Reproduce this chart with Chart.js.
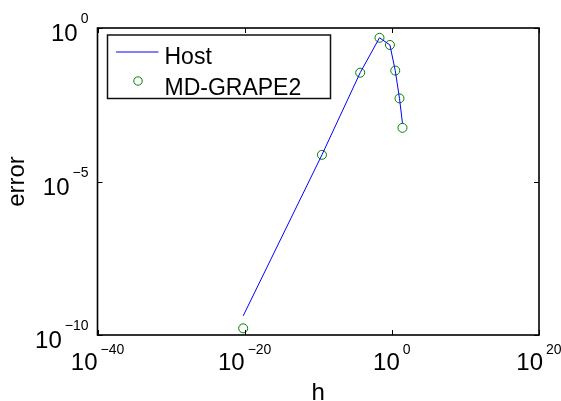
<!DOCTYPE html>
<html lang="en">
  <head>
    <meta charset="UTF-8" />
    <title>error vs h</title>
    <script src="https://cdn.jsdelivr.net/npm/chart.js"></script>
    <style>
      body { margin: 0; background: #fff; }
    </style>
  </head>
  <body>
    <canvas id="errChart" width="561" height="401"></canvas>

    <script>
      // step sizes h and errors
      const hValues = [6.3e-21, 3.2e-10, 5e-5, 2.1e-2, 0.55, 2.9, 11, 28];
      const hostErr = [4.2e-10, 7.4e-5, 0.035, 0.48, 0.28, 0.041, 5.1e-3, 7.9e-4];
      const grapeErr = [1.65e-10, 7.4e-5, 0.035, 0.48, 0.28, 0.041, 5.1e-3, 5.6e-4];
      const xTickExp = [-40, -20, 0, 20];
      const yTickExp = [-10, -5, 0];
      const seriesNames = ["Host", "MD-GRAPE2"];

      const FONT = "'Liberation Sans', Arial, sans-serif";

      function expText(e) {
        return e < 0 ? "\u2212" + Math.abs(e) : String(e);
      }

      // matlab-like frame, inward ticks, 10^n labels, axis titles, legend
      const matlabAxes = {
        id: "matlabAxes",
        afterDraw(chart) {
          const ctx = chart.ctx;
          const a = chart.chartArea;
          const xs = chart.scales.x;
          const ys = chart.scales.y;
          ctx.save();

          // frame
          ctx.strokeStyle = "#000";
          ctx.lineWidth = 1.6;
          ctx.strokeRect(a.left, a.top, a.right - a.left, a.bottom - a.top);

          // ticks
          ctx.lineWidth = 1;
          ctx.beginPath();
          xTickExp.forEach((e) => {
            const px = Math.round(xs.getPixelForValue(Math.pow(10, e))) + 0.5;
            ctx.moveTo(px, a.bottom); ctx.lineTo(px, a.bottom - 5);
            ctx.moveTo(px, a.top); ctx.lineTo(px, a.top + 5);
          });
          yTickExp.forEach((e) => {
            const py = Math.round(ys.getPixelForValue(Math.pow(10, e))) + 0.5;
            ctx.moveTo(a.left, py); ctx.lineTo(a.left + 5, py);
            ctx.moveTo(a.right, py); ctx.lineTo(a.right - 5, py);
          });
          ctx.stroke();

          // tick labels
          ctx.fillStyle = "#000";
          ctx.textBaseline = "alphabetic";
          ctx.textAlign = "left";
          const big = "24px " + FONT;
          const small = "14px " + FONT;
          const gap = 3;
          xTickExp.forEach((e) => {
            const px = xs.getPixelForValue(Math.pow(10, e));
            ctx.font = big;
            const w1 = ctx.measureText("10").width;
            ctx.font = small;
            const w2 = ctx.measureText(expText(e)).width;
            const x0 = px - (w1 + gap + w2) / 2;
            ctx.font = big;
            ctx.fillText("10", x0, a.bottom + 35);
            ctx.font = small;
            ctx.fillText(expText(e), x0 + w1 + gap, a.bottom + 19);
          });
          yTickExp.forEach((e) => {
            const py = ys.getPixelForValue(Math.pow(10, e));
            ctx.font = small;
            const w2 = ctx.measureText(expText(e)).width;
            ctx.font = big;
            const w1 = ctx.measureText("10").width;
            const x0 = a.left - 9 - w2 - gap - w1;
            ctx.fillText("10", x0, py + 13);
            ctx.font = small;
            ctx.fillText(expText(e), x0 + w1 + gap, py - 5);
          });

          // axis titles
          ctx.font = "24px " + FONT;
          ctx.textAlign = "center";
          ctx.fillText("h", (a.left + a.right) / 2, a.bottom + 65);
          ctx.save();
          ctx.translate(23.5, (a.top + a.bottom) / 2);
          ctx.rotate(-Math.PI / 2);
          ctx.fillText("error", 0, 0);
          ctx.restore();

          // legend
          const lx = a.left + 10;
          const ly = a.top + 7;
          ctx.lineWidth = 1.5;
          ctx.strokeStyle = "#111";
          ctx.strokeRect(lx, ly, 223, 63.5);
          const hostDs = chart.data.datasets[0];
          const grapeDs = chart.data.datasets[1];
          ctx.strokeStyle = hostDs.borderColor;
          ctx.lineWidth = 1;
          ctx.beginPath();
          ctx.moveTo(lx + 8.5, ly + 17);
          ctx.lineTo(lx + 51, ly + 17);
          ctx.stroke();
          ctx.strokeStyle = grapeDs.pointBorderColor;
          ctx.beginPath();
          ctx.arc(lx + 30.5, ly + 46, 4.2, 0, Math.PI * 2);
          ctx.stroke();
          ctx.textAlign = "left";
          ctx.font = "23px " + FONT;
          ctx.fillText(hostDs.label, lx + 57, ly + 28.5);
          ctx.fillText(grapeDs.label, lx + 57, ly + 59.5);

          ctx.restore();
        },
      };

      new Chart(document.getElementById("errChart"), {
        type: "scatter",
        data: {
          datasets: [
            {
              label: seriesNames[0],
              data: hValues.map((h, i) => ({ x: h, y: hostErr[i] })),
              showLine: true,
              borderColor: "#0000ff",
              borderWidth: 1,
              pointRadius: 0,
              tension: 0,
            },
            {
              label: seriesNames[1],
              data: hValues.map((h, i) => ({ x: h, y: grapeErr[i] })),
              showLine: false,
              pointStyle: "circle",
              pointRadius: 4.5,
              pointBorderWidth: 1,
              pointBorderColor: "#008000",
              pointBackgroundColor: "rgba(0,0,0,0)",
            },
          ],
        },
        options: {
          responsive: false,
          animation: false,
          layout: { padding: { left: 97.5, right: 22, top: 28, bottom: 66 } },
          plugins: { legend: { display: false }, tooltip: { enabled: false } },
          scales: {
            x: { type: "logarithmic", min: 1e-40, max: 1e20, display: false },
            y: { type: "logarithmic", min: 1e-10, max: 1, display: false },
          },
        },
        plugins: [matlabAxes],
      });
    </script>
  </body>
</html>
